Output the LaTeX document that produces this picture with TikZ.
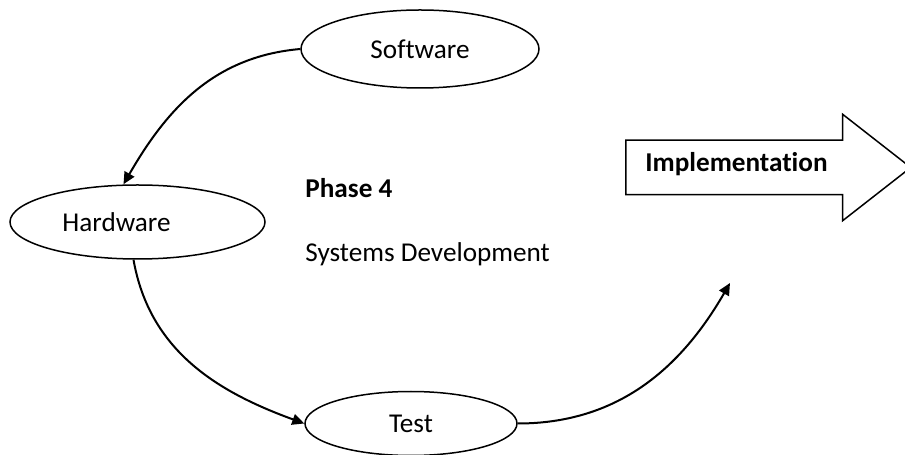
\documentclass[tikz,border=0pt]{standalone}
\usepackage{fontspec}
\setmainfont{Carlito}[Ligatures=NoCommon]
\usepackage{tikz}
\usetikzlibrary{shapes.geometric, shapes.arrows, arrows.meta, positioning}

\begin{document}
\begin{tikzpicture}[
    x=0.5pt, y=0.5pt,
    every node/.style={font=\fontsize{13.6}{16}\selectfont},
    stage/.style={ellipse, draw=black, line width=0.75pt, inner sep=0pt},
    note/.style={anchor=base west, inner sep=0pt},
    bigarrow/.style={single arrow, draw=black, line width=0.75pt, single arrow head extend=13pt, single arrow tip angle=76, text height=7pt, text depth=2pt, inner ysep=8.75pt, inner xsep=0pt, minimum height=142.5pt, anchor=tail},
    arrow/.style={-{Triangle[length=6pt,width=5.5pt]}, line width=1pt}
]
\useasboundingbox (0,0) rectangle (905,455);

% Nodes
\node (software) [stage, minimum width=119pt, minimum height=39pt] at (420,406) {Software};
\node (hardware) [stage, minimum width=127.5pt, minimum height=37pt] at (137.5,233) {Hardware\hspace*{21pt}};
\node (test) [stage, minimum width=106pt, minimum height=32pt] at (411,31.5) {Test};
\node (phase) [note, font=\fontsize{13.6}{16}\selectfont\bfseries] at (305,257) {Phase 4};
\node (sysdev) [note] at (305,193) {Systems Development};
\node (impl) [bigarrow] at (625,287.5) {};
\node (impltext) [note, font=\fontsize{13.6}{16}\selectfont\bfseries] at (645,283) {Implementation};
\coordinate (impl-in) at (730,172);

% Arrows
\draw [arrow] (software.west) to[out=185, in=60] ([xshift=-7pt]hardware.north);
\draw [arrow] ([xshift=-2pt]hardware.south) to[out=-80, in=160] (test.west);
\draw [arrow] (test.east) to[out=0, in=240] (impl-in);

\end{tikzpicture}
\end{document}
